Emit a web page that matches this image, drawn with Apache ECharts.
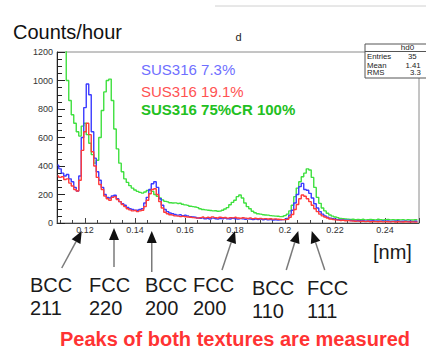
<!DOCTYPE html>
<html>
<head>
<meta charset="utf-8">
<script src="https://cdn.jsdelivr.net/npm/echarts@6/dist/echarts.min.js"></script>
<style>
  html, body { margin: 0; padding: 0; background: #fff; }
  #chart { width: 426px; height: 350px; }
</style>
</head>
<body>
<div id="chart"></div>
<script>
// Histogram binning of the d-spacing axis [nm]
const binStart = 0.109;
const binWidth = 0.001;

// Counts/hour per bin, one list per sample
const sus316_7_3 = [
  405, 380, 350, 330, 340, 310, 290, 250, 225, 330,
  600, 810, 975, 900, 640, 455, 360, 300, 250, 200,
  180, 175, 190, 195, 170, 150, 135, 125, 110, 100,
  95, 90, 90, 95, 100, 140, 180, 235, 275, 290,
  250, 170, 125, 95, 80, 70, 65, 60, 55, 58,
  52, 55, 50, 45, 42, 40, 35, 33, 36, 30,
  33, 28, 34, 30, 27, 32, 29, 35, 30, 28,
  33, 30, 27, 31, 29, 26, 30, 28, 24, 28,
  25, 27, 23, 26, 22, 24, 21, 23, 20, 22,
  24, 26, 32, 55, 90, 140, 200, 255, 278, 235,
  230, 208, 175, 135, 105, 80, 62, 50, 40, 34,
  30, 26, 24, 21, 22, 19, 20, 18, 17, 15,
  16, 14, 17, 13, 15, 14, 16, 12, 14, 13,
  15, 12, 14, 11, 13, 12, 14, 11, 12, 13,
  11, 12, 10, 12, 11
];
const sus316_19_1 = [
  330, 320, 325, 305, 310, 280, 260, 235, 225, 300,
  510, 640, 700, 620, 500, 400, 320, 270, 235, 190,
  170, 160, 180, 185, 165, 150, 130, 115, 100, 92,
  85, 88, 80, 85, 90, 115, 160, 205, 235, 240,
  200, 150, 105, 75, 65, 58, 55, 50, 48, 45,
  47, 44, 42, 40, 38, 36, 34, 38, 42, 36,
  40, 37, 43, 38, 35, 40, 37, 39, 34, 38,
  36, 40, 35, 33, 37, 34, 32, 36, 31, 33,
  30, 32, 29, 31, 28, 30, 27, 29, 26, 25,
  24, 24, 26, 40, 60, 95, 130, 170, 196, 188,
  170, 150, 125, 100, 80, 62, 50, 42, 35, 28,
  25, 22, 20, 18, 19, 16, 17, 15, 14, 12,
  13, 11, 12, 10, 12, 9, 11, 10, 9, 11,
  8, 10, 9, 8, 10, 7, 9, 8, 7, 9,
  8, 7, 8, 6, 8
];
const sus316_75cr = [
  1600, 1500, 1400, 1280, 1000, 860, 760, 700, 640, 610,
  680, 700, 620, 560, 480, 420, 440, 600, 790, 920,
  1000, 1010, 860, 660, 520, 420, 360, 310, 285, 262,
  245, 232, 222, 215, 210, 218, 228, 232, 222, 200,
  188, 175, 162, 152, 148, 142, 140, 141, 137, 139,
  132, 127, 124, 118, 115, 112, 108, 100, 95, 92,
  90, 88, 85, 86, 82, 83, 90, 98, 108, 128,
  145, 160, 185, 196, 175, 140, 115, 100, 82, 72,
  65, 62, 58, 56, 55, 52, 50, 48, 47, 45,
  46, 52, 62, 85, 125, 185, 245, 290, 325, 350,
  380, 372, 320, 250, 180, 138, 105, 85, 68, 56,
  48, 42, 38, 32, 30, 28, 27, 25, 26, 24,
  25, 23, 26, 22, 24, 25, 23, 22, 26, 24,
  21, 23, 25, 22, 24, 21, 23, 22, 24, 20,
  23, 22, 21, 23, 22
];

const seriesNames = ['SUS316 7.3%', 'SUS316 19.1%', 'SUS316 75%CR 100%'];

// Axis ranges
const xRange = [0.1088, 0.2536];
const yRange = [0, 1200];
const yStep = 200;

// Reflection markers: label and the d value each arrow points at
const peakNames = ['BCC\n211', 'FCC\n220', 'BCC\n200', 'FCC\n200', 'BCC\n110', 'FCC\n111'];
const peakD = [0.1187, 0.1316, 0.1467, 0.1800, 0.2053, 0.2107];

// Stats box rows
const statNames = ['Entries', 'Mean', 'RMS'];
const statValues = ['35', '1.41', '3.3'];

const FONT = '"Liberation Sans", Arial, Helvetica, sans-serif';

function toPairs(values) {
  return values.map((v, i) => [+(binStart + i * binWidth).toFixed(4), v]);
}

function txt(x, y, text, size, color, opts) {
  return Object.assign({
    type: 'text', x: x, y: y,
    style: Object.assign({
      text: text, fontSize: size, fontFamily: FONT, fontWeight: 'normal',
      fill: color, verticalAlign: 'middle', align: 'left'
    }, (opts && opts.style) || {})
  }, (opts && opts.el) || {});
}

const chart = echarts.init(document.getElementById('chart'), null, { renderer: 'svg' });

const lineColors = ['#3b3bff', '#ff3b3b', '#3fe03f'];
const drawOrder = [2, 0, 1];
const datasets = [sus316_7_3, sus316_19_1, sus316_75cr];

const axisLabelStyle = { color: '#333', fontSize: 9, fontFamily: FONT };

chart.setOption({
  animation: false,
  backgroundColor: '#fff',
  grid: {
    left: 57, right: 7, top: 52, bottom: 127,
    show: true, borderColor: '#8a8a8a', borderWidth: 1, backgroundColor: 'transparent'
  },
  xAxis: {
    type: 'value',
    min: xRange[0], max: xRange[1],
    splitNumber: 7,
    axisLine: { lineStyle: { color: '#444', width: 1 } },
    axisTick: { inside: true, length: 5, lineStyle: { color: '#444' } },
    minorTick: { show: true, splitNumber: 4, length: 3, lineStyle: { color: '#444' } },
    splitLine: { show: false },
    axisLabel: Object.assign({ margin: 2, showMinLabel: false, showMaxLabel: false,
      formatter: v => String(+v.toFixed(3)) }, axisLabelStyle)
  },
  yAxis: {
    type: 'value',
    min: yRange[0], max: yRange[1], interval: yStep,
    axisLine: { show: true, lineStyle: { color: '#222', width: 1 } },
    axisTick: { show: true, inside: true, length: 8, lineStyle: { color: '#222' } },
    minorTick: { show: true, splitNumber: 4, length: 5, lineStyle: { color: '#222' } },
    splitLine: { show: false },
    axisLabel: Object.assign({ margin: 4, formatter: v => String(v) }, axisLabelStyle)
  },
  series: drawOrder.map(k => ({
    name: seriesNames[k],
    type: 'line',
    step: 'middle',
    showSymbol: false,
    clip: true,
    data: toPairs(datasets[k]),
    lineStyle: { color: lineColors[k], width: 1.4 },
    itemStyle: { color: lineColors[k] }
  }))
});

// Annotation layer: titles, legend text, stats box, arrows and labels
function arrow(tipX, tipY, tailX, tailY) {
  const dx = tipX - tailX, dy = tipY - tailY;
  const len = Math.hypot(dx, dy);
  const ux = dx / len, uy = dy / len;
  const headLen = 12, headHalf = 5;
  const bx = tipX - ux * headLen, by = tipY - uy * headLen;
  const nx = -uy, ny = ux;
  return [
    { type: 'line', shape: { x1: tailX, y1: tailY, x2: bx, y2: by },
      style: { stroke: '#7a7a7a', lineWidth: 1.5 }, z: 10 },
    { type: 'polygon',
      shape: { points: [[tipX, tipY], [bx + nx * headHalf, by + ny * headHalf], [bx - nx * headHalf, by - ny * headHalf]] },
      style: { fill: '#111' }, z: 11 }
  ];
}

// tail offsets (dx, tip y, tail y) for each marker arrow
const arrowGeom = [[-20, 231, 268], [0, 228, 267], [0, 231, 272], [-13, 231, 270], [-12, 231, 270], [13, 231, 270]];
const labelPos = [[30, 274], [89, 274], [145, 274], [193, 274], [252, 277], [307, 277]];

const graphics = [];
graphics.push({ type: 'line', shape: { x1: 215, y1: 6, x2: 426, y2: 6 }, style: { stroke: '#d0d0d0', lineWidth: 1 } });
graphics.push(txt(13, 32, 'Counts/hour', 20, '#111'));
graphics.push(txt(238.5, 37, 'd', 11, '#222', { style: { align: 'center' } }));

const legendColors = ['#6f6fff', '#ff5252', '#22c022'];
const legendY = [69, 91, 109];
seriesNames.forEach((n, i) => {
  graphics.push(txt(141, legendY[i], n, 15, legendColors[i],
    { style: { fontWeight: i === 2 ? 'bold' : 'normal' }, el: { z: 20 } }));
});

// stats box
const statY = [56.7, 65, 72.7];
const statValX = [408, 405.5, 410];
graphics.push({ type: 'rect', shape: { x: 365, y: 44, width: 80, height: 34 }, style: { fill: '#fff', stroke: '#555', lineWidth: 1 }, z: 20 });
graphics.push({ type: 'line', shape: { x1: 365, y1: 51.5, x2: 426, y2: 51.5 }, style: { stroke: '#555', lineWidth: 1 }, z: 21 });
graphics.push(txt(407.5, 47.8, 'hd0', 8, '#222', { style: { align: 'center' }, el: { z: 21 } }));
statNames.forEach((n, i) => {
  graphics.push(txt(367, statY[i], n, 7.8, '#222', { el: { z: 21 } }));
  graphics.push(txt(statValX[i], statY[i], statValues[i], 7.8, '#222', { el: { z: 21 } }));
});

peakD.forEach((d, i) => {
  const tipX = chart.convertToPixel({ xAxisIndex: 0 }, d);
  const g = arrowGeom[i];
  arrow(tipX, g[1], tipX + g[0], g[2]).forEach(e => graphics.push(e));
  graphics.push(txt(labelPos[i][0], labelPos[i][1], peakNames[i], 20, '#1a1a1a',
    { style: { lineHeight: 22.5, verticalAlign: 'top' } }));
});

graphics.push(txt(373, 252, '[nm]', 20, '#1a1a1a'));
graphics.push(txt(235, 339, 'Peaks of both textures are measured', 20, '#ff3333',
  { style: { fontWeight: 'bold', align: 'center' } }));

chart.setOption({ graphic: graphics });
</script>
</body>
</html>
